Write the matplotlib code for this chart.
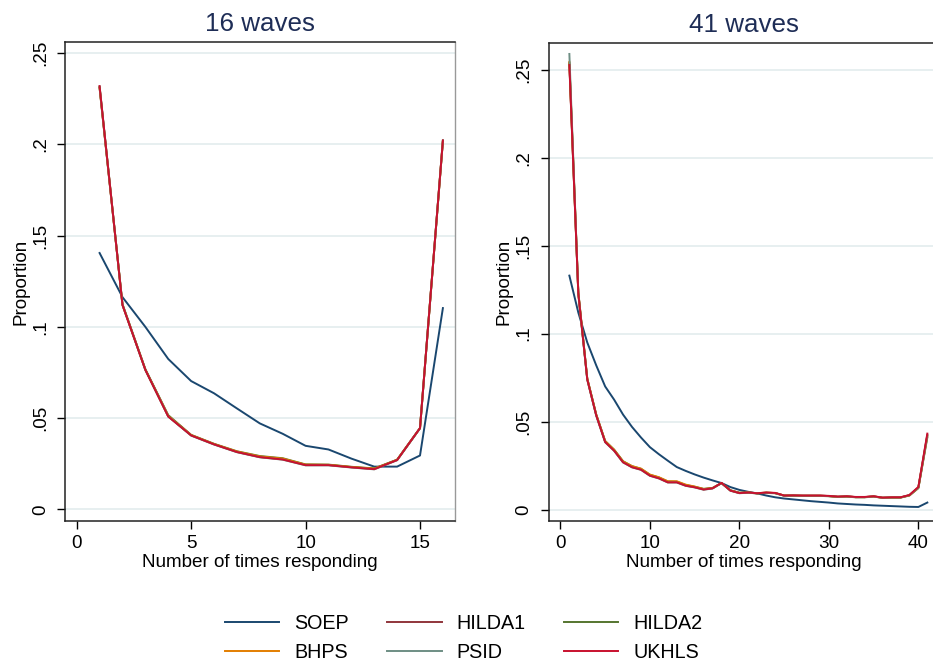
import numpy as np
import matplotlib
matplotlib.use("Agg")
import matplotlib.pyplot as plt

plt.rcParams['font.family'] = ['Liberation Sans', 'DejaVu Sans']

# 16 waves panel
waves16 = np.arange(1, 17)
soep16 = [0.1405, 0.1163, 0.1000, 0.0824, 0.0703, 0.0636, 0.0553, 0.0471,
          0.0414, 0.0348, 0.0328, 0.0278, 0.0234, 0.0234, 0.0295, 0.1103]
hilda1_16 = [0.2310, 0.1120, 0.0766, 0.0510, 0.0406, 0.0357, 0.0315, 0.0287,
             0.0275, 0.0244, 0.0243, 0.0231, 0.0222, 0.0271, 0.0446, 0.2020]
hilda2_16 = [0.2315, 0.1125, 0.0768, 0.0516, 0.0408, 0.0359, 0.0318, 0.0292,
             0.0280, 0.0246, 0.0245, 0.0233, 0.0224, 0.0272, 0.0444, 0.2018]
bhps16 = [0.2312, 0.1122, 0.0765, 0.0512, 0.0407, 0.0358, 0.0317, 0.0290,
          0.0278, 0.0245, 0.0244, 0.0232, 0.0223, 0.0271, 0.0445, 0.2021]
psid16 = [0.2318, 0.1121, 0.0763, 0.0509, 0.0404, 0.0355, 0.0313, 0.0285,
          0.0272, 0.0241, 0.0241, 0.0229, 0.0219, 0.0269, 0.0444, 0.2023]
ukhls16 = [0.2320, 0.1120, 0.0764, 0.0508, 0.0405, 0.0356, 0.0314, 0.0286,
           0.0273, 0.0242, 0.0242, 0.0230, 0.0220, 0.0270, 0.0445, 0.2022]

# 41 waves panel
waves41 = np.arange(1, 42)
soep41 = [0.1330, 0.1120, 0.0950, 0.0820, 0.0700, 0.0625, 0.0540, 0.0470, 0.0410, 0.0355,
          0.0315, 0.0278, 0.0242, 0.0220, 0.0200, 0.0182, 0.0166, 0.0151, 0.0128, 0.0112,
          0.0101, 0.0092, 0.0080, 0.0070, 0.0063, 0.0058, 0.0053, 0.0048, 0.0044, 0.0040,
          0.0035, 0.0032, 0.0029, 0.0027, 0.0024, 0.0022, 0.0020, 0.0018, 0.0016, 0.0015,
          0.0040]
hilda1_41 = [0.2535, 0.1230, 0.0742, 0.0538, 0.0386, 0.0337, 0.0271, 0.0243, 0.0229, 0.0195,
             0.0180, 0.0157, 0.0157, 0.0138, 0.0128, 0.0116, 0.0122, 0.0151, 0.0109, 0.0095,
             0.0097, 0.0093, 0.0096, 0.0094, 0.0080, 0.0080, 0.0079, 0.0079, 0.0079, 0.0077,
             0.0073, 0.0075, 0.0071, 0.0071, 0.0075, 0.0068, 0.0069, 0.0069, 0.0082, 0.0126,
             0.0425]
hilda2_41 = [0.2540, 0.1235, 0.0745, 0.0541, 0.0390, 0.0341, 0.0275, 0.0247, 0.0232, 0.0198,
             0.0183, 0.0160, 0.0159, 0.0140, 0.0130, 0.0118, 0.0123, 0.0150, 0.0110, 0.0096,
             0.0096, 0.0092, 0.0095, 0.0093, 0.0079, 0.0079, 0.0078, 0.0078, 0.0078, 0.0076,
             0.0072, 0.0074, 0.0070, 0.0070, 0.0074, 0.0067, 0.0068, 0.0068, 0.0080, 0.0122,
             0.0410]
bhps41 = [0.2545, 0.1232, 0.0744, 0.0540, 0.0389, 0.0340, 0.0274, 0.0247, 0.0233, 0.0199,
          0.0184, 0.0161, 0.0161, 0.0142, 0.0131, 0.0117, 0.0122, 0.0151, 0.0109, 0.0095,
          0.0097, 0.0093, 0.0097, 0.0094, 0.0080, 0.0080, 0.0079, 0.0079, 0.0079, 0.0077,
          0.0073, 0.0075, 0.0071, 0.0071, 0.0075, 0.0067, 0.0069, 0.0069, 0.0081, 0.0124,
          0.0418]
psid41 = [0.2590, 0.1225, 0.0738, 0.0534, 0.0383, 0.0334, 0.0268, 0.0240, 0.0226, 0.0192,
          0.0177, 0.0154, 0.0154, 0.0135, 0.0126, 0.0113, 0.0120, 0.0151, 0.0107, 0.0093,
          0.0096, 0.0092, 0.0096, 0.0094, 0.0079, 0.0080, 0.0079, 0.0079, 0.0079, 0.0077,
          0.0073, 0.0075, 0.0071, 0.0071, 0.0075, 0.0067, 0.0069, 0.0069, 0.0082, 0.0125,
          0.0420]
ukhls41 = [0.2527, 0.1228, 0.0740, 0.0536, 0.0384, 0.0335, 0.0269, 0.0241, 0.0227, 0.0193,
           0.0178, 0.0155, 0.0155, 0.0136, 0.0127, 0.0114, 0.0121, 0.0152, 0.0108, 0.0094,
           0.0097, 0.0093, 0.0097, 0.0095, 0.0080, 0.0081, 0.0080, 0.0080, 0.0080, 0.0078,
           0.0074, 0.0076, 0.0072, 0.0072, 0.0076, 0.0068, 0.0070, 0.0070, 0.0083, 0.0129,
           0.0432]

names = ["SOEP", "HILDA1", "HILDA2", "BHPS", "PSID", "UKHLS"]
colors = ["#1a476f", "#90353b", "#55752f", "#e37e00", "#6e8e84", "#c8102e"]
yticks = [0, 0.05, 0.1, 0.15, 0.2, 0.25]
ytick_labels = ["0", ".05", ".1", ".15", ".2", ".25"]

panels = [
    ("16 waves", waves16, [soep16, hilda1_16, hilda2_16, bhps16, psid16, ukhls16],
     [0, 5, 10, 15], (-0.51, 16.53), (-0.00658, 0.2560), [0.0697, 0.2149, 0.418, 0.7214]),
    ("41 waves", waves41, [soep41, hilda1_41, hilda2_41, bhps41, psid41, ukhls41],
     [0, 10, 20, 30, 40], (-1.31, 42.27), (-0.00665, 0.2654), [0.5881, 0.2149, 0.418, 0.7208]),
]

fig = plt.figure(figsize=(9.33, 6.64), dpi=100)
fs = 13.6
handles = []
for title, x, series, xt, xl, yl, pos in panels:
    ax = fig.add_axes(pos)
    handles = []
    for vals, name, c in zip(series, names, colors):
        h, = ax.plot(x, vals, color=c, lw=1.4, label=name)
        handles.append(h)
    ax.set_xlim(*xl)
    ax.set_ylim(*yl)
    ax.set_xticks(xt)
    ax.set_yticks(yticks)
    ax.set_yticklabels(ytick_labels, rotation=90, va="center")
    ax.tick_params(direction="out", length=5.5, width=1, labelsize=fs, pad=4)
    ax.tick_params(axis="y", pad=6)
    ax.grid(axis="y", color="#e3ecee", lw=1.2)
    ax.set_axisbelow(True)
    for s in ["left", "bottom", "top"]:
        ax.spines[s].set_linewidth(1.1)
        ax.spines[s].set_color("#222222")
    ax.spines["right"].set_color("#999999")
    ax.spines["right"].set_linewidth(1.0)
    ax.set_title(title, fontsize=18.7, color="#1e2d56", pad=8)
    ax.set_xlabel("Number of times responding", fontsize=fs, labelpad=2)
    ax.set_ylabel("Proportion", fontsize=fs, labelpad=2)

# legend order: row1 SOEP, HILDA1, HILDA2; row2 BHPS, PSID, UKHLS
order = [0, 3, 1, 4, 2, 5]
fig.legend([handles[i] for i in order], [names[i] for i in order],
           loc="center", bbox_to_anchor=(0.497, 1 - 638 / 664), ncol=3,
           frameon=False, fontsize=14.2, handlelength=2.75, handletextpad=0.75,
           columnspacing=1.95, labelspacing=0.5)

fig.savefig("out.png", dpi=100, facecolor="white")
